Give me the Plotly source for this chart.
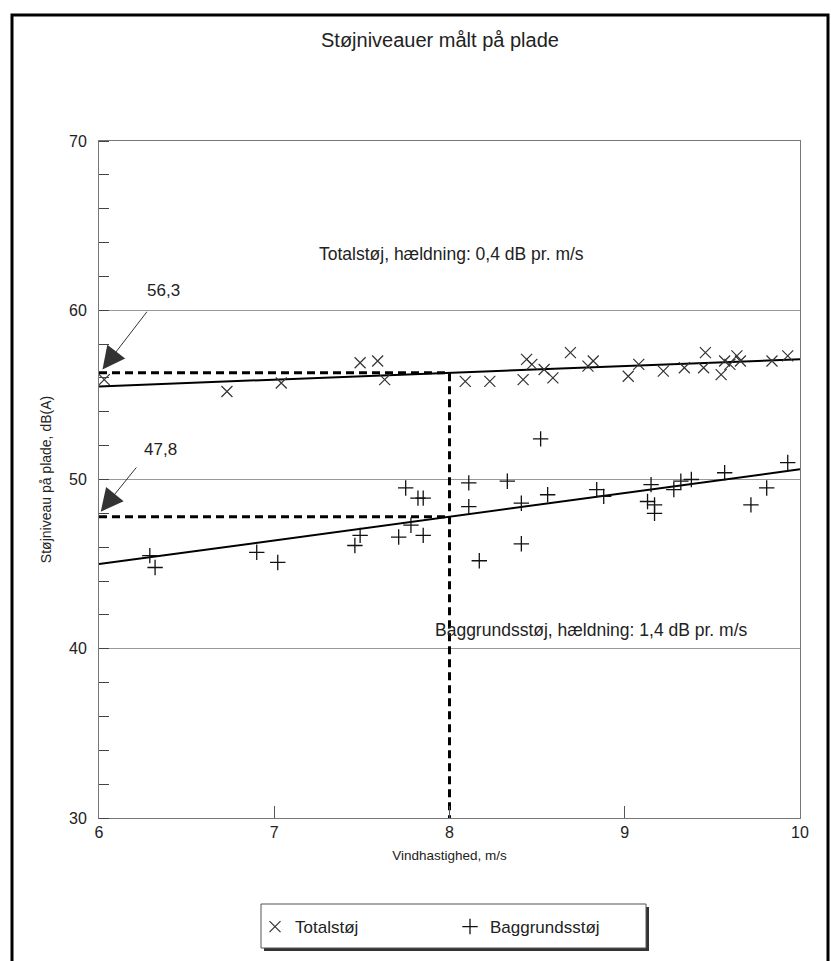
import plotly.graph_objects as go

# ---------------- data ----------------
total_x = [6.03, 6.73, 7.04, 7.49, 7.59, 7.63, 8.09, 8.23, 8.42, 8.44, 8.47, 8.54, 8.59,
           8.69, 8.79, 8.82, 9.02, 9.08, 9.22, 9.34, 9.45, 9.46, 9.55, 9.57, 9.60, 9.64,
           9.66, 9.84, 9.93]
total_y = [55.9, 55.2, 55.7, 56.9, 57.0, 55.9, 55.8, 55.8, 55.9, 57.1, 56.8, 56.5, 56.0,
           57.5, 56.7, 57.0, 56.1, 56.8, 56.4, 56.6, 56.6, 57.5, 56.2, 57.0, 56.8, 57.3,
           57.0, 57.0, 57.3]

bg_x = [6.29, 6.32, 6.90, 7.02, 7.46, 7.49, 7.71, 7.75, 7.78, 7.82, 7.85, 7.85, 8.11,
        8.11, 8.17, 8.33, 8.41, 8.41, 8.52, 8.56, 8.84, 8.88, 9.13, 9.15, 9.17, 9.17,
        9.28, 9.32, 9.38, 9.57, 9.72, 9.81, 9.93]
bg_y = [45.5, 44.8, 45.7, 45.1, 46.1, 46.7, 46.6, 49.5, 47.3, 48.9, 48.9, 46.7, 49.8,
        48.4, 45.2, 49.9, 48.6, 46.2, 52.4, 49.1, 49.4, 49.0, 48.7, 49.7, 48.5, 48.0,
        49.4, 49.9, 50.0, 50.4, 48.5, 49.5, 51.0]

ref_speed = 8.0
total_at_ref = 56.3
bg_at_ref = 47.8
total_slope = 0.4
bg_slope = 1.4
x_range = [6, 10]
y_range = [30, 70]
x_ticks = [6, 7, 8, 9, 10]
y_ticks = [30, 40, 50, 60, 70]

# ---------------- layout geometry ----------------
W, H = 831, 961
ML, MR, MT, MB = 99, 31, 141, 143
PW = W - ML - MR
PH = H - MT - MB


def px(xp):
    return (xp - ML) / PW


def py(yp):
    return (H - MB - yp) / PH


FONT = "Arial, 'Liberation Sans', sans-serif"
INK = "#222"

fig = go.Figure()

# regression lines
fig.add_trace(go.Scatter(
    x=x_range, y=[total_at_ref + total_slope * (v - ref_speed) for v in x_range],
    mode="lines", line=dict(color="black", width=2), showlegend=False, hoverinfo="skip"))
fig.add_trace(go.Scatter(
    x=x_range, y=[bg_at_ref + bg_slope * (v - ref_speed) for v in x_range],
    mode="lines", line=dict(color="black", width=2), showlegend=False, hoverinfo="skip"))

# dashed reading lines
fig.add_trace(go.Scatter(
    x=[x_range[0], ref_speed, ref_speed], y=[total_at_ref, total_at_ref, y_range[0]],
    mode="lines", line=dict(color="black", width=3, dash="8px,5px"),
    showlegend=False, hoverinfo="skip"))
fig.add_trace(go.Scatter(
    x=[x_range[0], ref_speed], y=[bg_at_ref, bg_at_ref],
    mode="lines", line=dict(color="black", width=3, dash="8px,5px"),
    showlegend=False, hoverinfo="skip"))

# scatter points
fig.add_trace(go.Scatter(
    x=total_x, y=total_y, mode="markers", name="Totalstøj",
    marker=dict(symbol="x-thin-open", size=11, color="#333", line=dict(color="#333", width=1.2))))
fig.add_trace(go.Scatter(
    x=bg_x, y=bg_y, mode="markers", name="Baggrundsstøj",
    marker=dict(symbol="cross-thin-open", size=11, color="#111", line=dict(color="#111", width=1.3))))

annotations = [
    dict(x=6.02, y=56.5, ax=6.28, ay=60.0, xref="x", yref="y", axref="x", ayref="y",
         showarrow=True, arrowhead=2, arrowsize=4.5, arrowwidth=1, arrowcolor="#333", text=""),
    dict(x=6.01, y=48.1, ax=6.22, ay=50.8, xref="x", yref="y", axref="x", ayref="y",
         showarrow=True, arrowhead=2, arrowsize=4.5, arrowwidth=1, arrowcolor="#333", text=""),
    dict(x=6.37, y=61.15, xref="x", yref="y", text="56,3", showarrow=False,
         font=dict(size=17, color=INK, family=FONT)),
    dict(x=6.35, y=51.75, xref="x", yref="y", text="47,8", showarrow=False,
         font=dict(size=17, color=INK, family=FONT)),
    dict(x=8.01, y=63.3, xref="x", yref="y", text="Totalstøj, hældning: 0,4 dB pr. m/s",
         showarrow=False, font=dict(size=17.5, color=INK, family=FONT)),
    dict(x=8.81, y=41.1, xref="x", yref="y", text="Baggrundsstøj, hældning: 1,4 dB pr. m/s",
         showarrow=False, font=dict(size=17.5, color=INK, family=FONT)),
    dict(x=px(440), y=py(40), xref="paper", yref="paper", xanchor="center", yanchor="middle",
         text="Støjniveauer målt på plade",
         showarrow=False, font=dict(size=20, color=INK, family=FONT)),
]

shapes = [
    # outer page frame
    dict(type="rect", xref="paper", yref="paper", x0=px(12), x1=px(828), y0=py(1000), y1=py(15),
         line=dict(color="black", width=3), layer="below"),
    # legend box shadow
    dict(type="rect", xref="paper", yref="paper", x0=px(264), x1=px(649), y0=py(951), y1=py(907),
         line=dict(width=0), fillcolor="#333", layer="below"),
    # legend box
    dict(type="rect", xref="paper", yref="paper", x0=px(261), x1=px(646), y0=py(948), y1=py(904),
         line=dict(color="#555", width=1), fillcolor="white", layer="below"),
]

fig.update_layout(
    width=W, height=H,
    margin=dict(l=ML, r=MR, t=MT, b=MB),
    paper_bgcolor="white", plot_bgcolor="white",
    font=dict(family=FONT, color=INK),
    showlegend=True,
    legend=dict(orientation="h", x=px(450), xanchor="center", y=py(927), yanchor="middle",
                bgcolor="rgba(0,0,0,0)", borderwidth=0, font=dict(size=17, family=FONT, color=INK),
                entrywidth=150, itemwidth=30),
    annotations=annotations,
    shapes=shapes,
)

fig.update_xaxes(
    range=x_range, tickvals=x_ticks, ticktext=[str(v) for v in x_ticks],
    ticks="inside", ticklen=12, tickcolor="#555", tickwidth=1,
    showline=True, mirror=True, linecolor="#777", linewidth=1,
    showgrid=False, zeroline=False,
    tickfont=dict(size=16, family=FONT, color=INK),
    title=dict(text="Vindhastighed, m/s", font=dict(size=13.5, family=FONT, color=INK), standoff=10),
)
fig.update_yaxes(
    range=y_range, tickvals=y_ticks,
    ticks="", showline=True, mirror=True, linecolor="#777", linewidth=1,
    showgrid=True, gridcolor="#999", gridwidth=1, zeroline=False,
    tickfont=dict(size=16, family=FONT, color=INK), ticklabelstandoff=8,
    minor=dict(dtick=2, ticks="inside", ticklen=10, tickcolor="#444", tickwidth=1, showgrid=False),
    title=dict(text="Støjniveau på plade, dB(A)", font=dict(size=14, family=FONT, color=INK), standoff=14),
)

fig.write_html("out.html")
